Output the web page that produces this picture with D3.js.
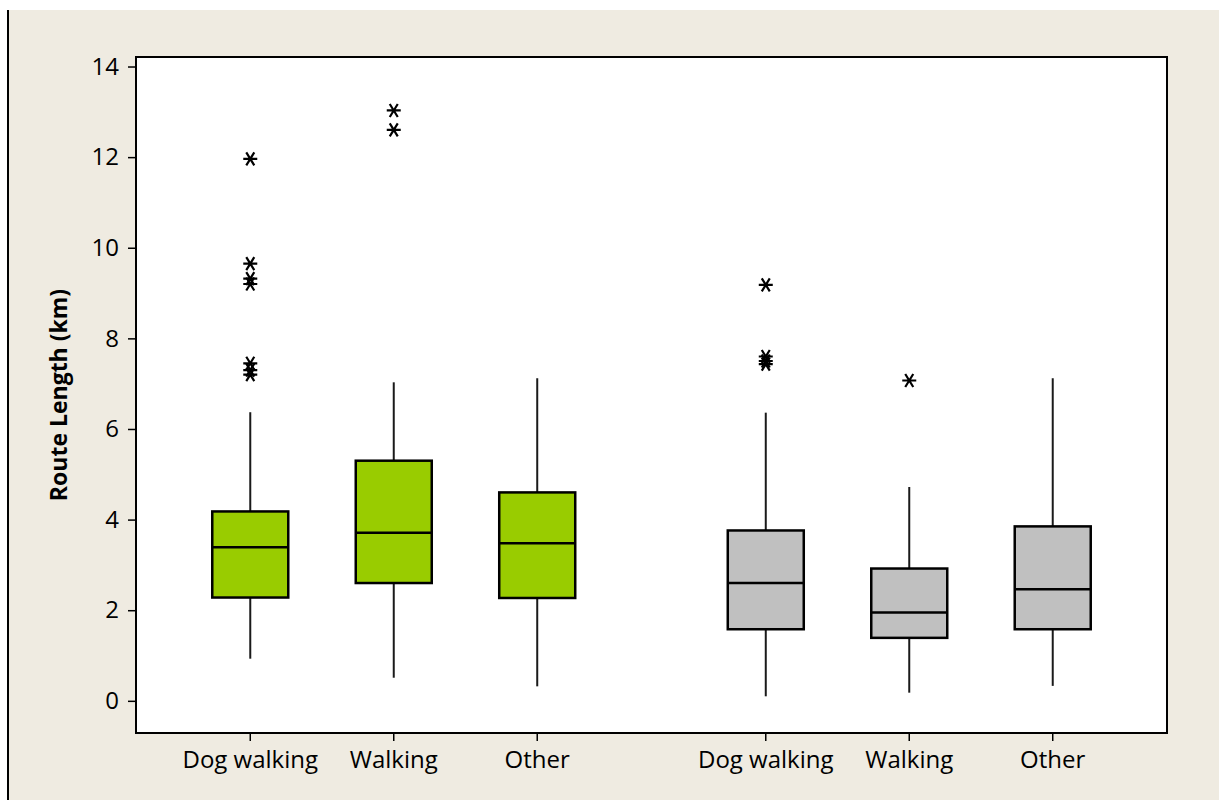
<!DOCTYPE html>
<html>
<head>
<meta charset="utf-8">
<script src="https://cdn.jsdelivr.net/npm/d3@7"></script>
<style>
  body { margin: 0; background: #fff; }
  .tick text { font-family: "Open Sans", sans-serif; }
</style>
</head>
<body>
<svg width="1219" height="800"></svg>
<script>
var width = 1219,
    height = 800;

// two owner groups, three activities each (green = first group, grey = second)
var groups = ["g1", "g2"];
var activities = ["Dog walking", "Walking", "Other"];
var groupColors = ["#99cc00", "#c0c0c0"];

var lowWhisker  = [[0.93, 0.51, 0.32], [0.10, 0.18, 0.33]];
var q1          = [[2.28, 2.60, 2.27], [1.58, 1.39, 1.58]];
var median      = [[3.39, 3.71, 3.48], [2.60, 1.95, 2.46]];
var q3          = [[4.18, 5.30, 4.60], [3.76, 2.92, 3.85]];
var highWhisker = [[6.37, 7.03, 7.12], [6.36, 4.72, 7.12]];
var outliers = [
  [[11.96, 9.65, 9.32, 9.20, 7.45, 7.30, 7.20], [13.03, 12.60], []],
  [[9.18, 7.60, 7.50, 7.43], [7.07], []]
];

var yTicks = [0, 2, 4, 6, 8, 10, 12, 14];

var frame = {left: 136, top: 57, right: 1167, bottom: 733};

var svg = d3.select("svg");

// page background and left rule
svg.append("rect")
    .attr("x", 8).attr("y", 10)
    .attr("width", width - 8).attr("height", height - 10)
    .attr("fill", "#efebe1");
svg.append("line")
    .attr("x1", 8).attr("x2", 8)
    .attr("y1", 10).attr("y2", height)
    .attr("stroke", "#000").attr("stroke-width", 2);

var y = d3.scaleLinear()
    .domain([-0.71, 14.21])
    .range([frame.bottom, frame.top]);

var xGroup = d3.scaleBand()
    .domain(groups)
    .range([frame.left, frame.right])
    .paddingInner(0.165)
    .paddingOuter(0.0825);

var xAct = d3.scalePoint()
    .domain(activities)
    .range([0, xGroup.bandwidth()])
    .padding(0.5);

var boxW = 76;

svg.append("rect")
    .attr("x", frame.left).attr("y", frame.top)
    .attr("width", frame.right - frame.left)
    .attr("height", frame.bottom - frame.top)
    .attr("fill", "#fff")
    .attr("stroke", "#000")
    .attr("stroke-width", 2);

var rows = [];
groups.forEach(function(g, gi) {
  activities.forEach(function(a, ai) {
    rows.push({
      group: g, act: a, gi: gi,
      lo: lowWhisker[gi][ai], q1: q1[gi][ai], med: median[gi][ai],
      q3: q3[gi][ai], hi: highWhisker[gi][ai], out: outliers[gi][ai]
    });
  });
});

function cx(d) { return xGroup(d.group) + xAct(d.act); }

var box = svg.append("g").selectAll("g")
    .data(rows)
    .enter().append("g");

box.append("line")
    .attr("x1", cx).attr("x2", cx)
    .attr("y1", function(d) { return y(d.lo); })
    .attr("y2", function(d) { return y(d.q1); })
    .attr("stroke", "#1a1a1a").attr("stroke-width", 2);
box.append("line")
    .attr("x1", cx).attr("x2", cx)
    .attr("y1", function(d) { return y(d.q3); })
    .attr("y2", function(d) { return y(d.hi); })
    .attr("stroke", "#1a1a1a").attr("stroke-width", 2);

box.append("rect")
    .attr("x", function(d) { return cx(d) - boxW / 2; })
    .attr("y", function(d) { return y(d.q3); })
    .attr("width", boxW)
    .attr("height", function(d) { return y(d.q1) - y(d.q3); })
    .attr("fill", function(d) { return groupColors[d.gi]; })
    .attr("stroke", "#000")
    .attr("stroke-width", 2.5);

box.append("line")
    .attr("x1", function(d) { return cx(d) - boxW / 2; })
    .attr("x2", function(d) { return cx(d) + boxW / 2; })
    .attr("y1", function(d) { return y(d.med); })
    .attr("y2", function(d) { return y(d.med); })
    .attr("stroke", "#000").attr("stroke-width", 2.5);

// asterisk outliers
var star = "M-7,0L7,0M-4,-6.5L4,6.5M-4,6.5L4,-6.5";
box.selectAll("path.out")
    .data(function(d) { return d.out.map(function(v) { return {x: cx(d), v: v}; }); })
    .enter().append("path")
    .attr("class", "out")
    .attr("d", star)
    .attr("transform", function(o) { return "translate(" + o.x + "," + y(o.v) + ")"; })
    .attr("fill", "none")
    .attr("stroke", "#000")
    .attr("stroke-width", 2.2);

// y axis
var yAxis = svg.append("g")
    .attr("transform", "translate(" + frame.left + ",0)")
    .call(d3.axisLeft(y).tickValues(yTicks).tickSize(8).tickPadding(9));
yAxis.select(".domain").remove();
yAxis.selectAll(".tick line").attr("stroke", "#000").attr("stroke-width", 1.5);
yAxis.selectAll(".tick text")
    .attr("font-size", 24)
    .attr("fill", "#000");

// x axis
rows.forEach(function(d) {
  svg.append("line")
      .attr("x1", cx(d)).attr("x2", cx(d))
      .attr("y1", frame.bottom).attr("y2", frame.bottom + 8)
      .attr("stroke", "#000").attr("stroke-width", 1.5);
  svg.append("text")
      .attr("x", cx(d))
      .attr("y", frame.bottom + 35)
      .attr("text-anchor", "middle")
      .attr("font-family", "Open Sans, sans-serif")
      .attr("font-size", 24)
      .attr("fill", "#000")
      .text(d.act);
});

svg.append("text")
    .attr("transform", "translate(" + 67 + "," + (frame.top + frame.bottom) / 2 + ") rotate(-90)")
    .attr("text-anchor", "middle")
    .attr("font-family", "Open Sans, sans-serif")
    .attr("font-weight", "bold")
    .attr("font-size", 23)
    .attr("fill", "#000")
    .text("Route Length (km)");
</script>
</body>
</html>
